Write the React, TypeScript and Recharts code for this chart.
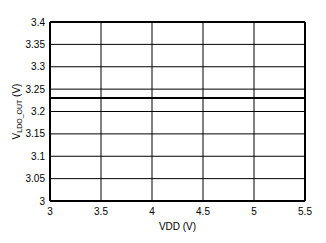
import React from 'react';
import { LineChart, Line, XAxis, YAxis, CartesianGrid, ReferenceLine } from 'recharts';

const vdd = [3, 3.5, 4, 4.5, 5, 5.5];
const vout = [3.23, 3.23, 3.23, 3.23, 3.23, 3.23];
const xTicks = [3, 3.5, 4, 4.5, 5, 5.5];
const yTicks = [3, 3.05, 3.1, 3.15, 3.2, 3.25, 3.3, 3.35, 3.4];

const data = vdd.map((v, i) => ({ vdd: v, vout: vout[i] }));

const font = { fontFamily: 'Arial, "Liberation Sans", sans-serif', fontSize: 10, fill: '#000' };

const YLabel = (props: any) => {
  const vb = props.viewBox || {};
  const cx = 16;
  const cy = vb.y + vb.height / 2;
  return (
    <text
      x={cx}
      y={cy}
      transform={`rotate(-90 ${cx} ${cy})`}
      textAnchor="middle"
      dominantBaseline="central"
      style={font}
    >
      V
      <tspan fontSize={7} dy={3}>LDO_OUT</tspan>
      <tspan dy={-3}> (V)</tspan>
    </text>
  );
};

const App: React.FC = () => {
  return (
    <div style={{ position: 'absolute', left: 0, top: 0, width: 326, height: 243, background: '#fff' }}>
      <LineChart width={326} height={243} data={data} margin={{ top: 22, right: 21, bottom: 0, left: 0 }}>
        <CartesianGrid stroke="#000" strokeWidth={1} syncWithTicks />
        <XAxis
          dataKey="vdd"
          type="number"
          domain={[3, 5.5]}
          ticks={xTicks}
          interval={0}
          height={42}
          tickLine={false}
          tickSize={5}
          tickMargin={2}
          axisLine={false}
          tick={font}
          label={{ value: 'VDD (V)', position: 'insideBottom', offset: 13, style: font }}
        />
        <YAxis
          type="number"
          domain={[3, 3.4]}
          ticks={yTicks}
          interval={0}
          width={50}
          tickLine={false}
          tickSize={3}
          tickMargin={2}
          axisLine={false}
          tick={font}
          label={<YLabel />}
        />
        <ReferenceLine x={3} stroke="#000" strokeWidth={2} />
        <ReferenceLine x={5.5} stroke="#000" strokeWidth={2} />
        <ReferenceLine y={3} stroke="#000" strokeWidth={2} />
        <ReferenceLine y={3.4} stroke="#000" strokeWidth={2} />
        <Line
          dataKey="vout"
          stroke="#000"
          strokeWidth={2}
          dot={false}
          isAnimationActive={false}
        />
      </LineChart>
    </div>
  );
};

export default App;
